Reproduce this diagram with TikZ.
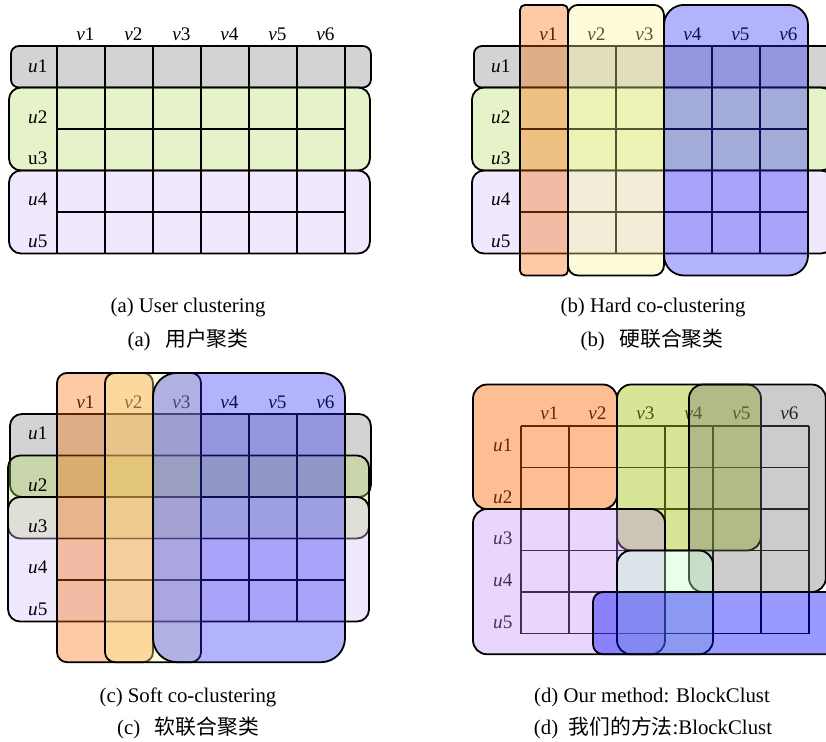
\documentclass[tikz,border=0pt]{standalone}
\usepackage{fontspec}
\setmainfont{Liberation Serif}
\newfontfamily\cjk{Noto Sans CJK SC}

\definecolor{rowgray}{RGB}{129,129,129}
\definecolor{rowgreen}{RGB}{184,218,98}
\definecolor{rowpurple}{RGB}{212,189,246}
\definecolor{colorange}{RGB}{249,101,0}
\definecolor{colyellow}{RGB}{249,244,146}
\definecolor{colblue}{RGB}{38,38,249}
\definecolor{blkorange}{RGB}{250,100,0}
\definecolor{blkgreen}{RGB}{164,199,22}
\definecolor{blkgray}{RGB}{109,109,109}
\definecolor{blkpurple}{RGB}{189,138,246}
\definecolor{blklight}{RGB}{195,255,195}
\definecolor{blkblue}{RGB}{0,0,255}

\begin{document}
\begin{tikzpicture}[
    x=0.5pt, y=-0.5pt,
    font=\fontsize{9.6}{11}\selectfont,
    gridline/.style={line width=0.9pt, black},
    clu/.style={draw=black, line width=0.9pt, fill opacity=0.35},
    lab/.style={inner sep=0pt},
    capt/.style={inner sep=0pt, font=\fontsize{10.4}{12}\selectfont}
]
\useasboundingbox (0,0) rectangle (826,741);

% (a) user clustering
\begin{scope}[shift={(57,46)}, x=24pt, y=-20.75pt]
\draw[clu, fill=rowgray, rounded corners=4pt] (-0.96,0) rectangle (6.54,1);
\draw[clu, fill=rowgreen, rounded corners=6pt] (-1,1) rectangle (6.52,3);
\draw[clu, fill=rowpurple, rounded corners=6pt] (-1,3) rectangle (6.52,5);
\foreach \j in {0,...,6} \draw[gridline] (\j,0) -- (\j,5);
\foreach \i in {0,...,5} \draw[gridline] (0,\i) -- (6,\i);
\foreach \j in {1,...,6}
    \node[lab] (a-v\j) at (\j-0.41,-0.29) {\textit{v}\j};
\foreach \i/\r in {1/0.48, 2/1.71, 4/3.7, 5/4.71}
    \node[lab] (a-u\i) at (-0.4,\r) {\textit{u}\i};
\node[lab] (a-u3) at (-0.4,2.7) {u3};
\end{scope}

% (b) hard co-clustering
\begin{scope}[shift={(520,46)}, x=24pt, y=-20.75pt]
\draw[clu, fill=rowgray, rounded corners=4pt] (-0.96,0) rectangle (6.54,1);
\draw[clu, fill=rowgreen, rounded corners=6pt] (-1,1) rectangle (6.52,3);
\draw[clu, fill=rowpurple, rounded corners=6pt] (-1,3) rectangle (6.52,5);
\foreach \j in {0,...,6} \draw[gridline] (\j,0) -- (\j,5);
\foreach \i in {0,...,5} \draw[gridline] (0,\i) -- (6,\i);
\foreach \j in {1,...,6}
    \node[lab] (b-v\j) at (\j-0.41,-0.29) {\textit{v}\j};
\foreach \i/\r in {1/0.48, 2/1.71, 3/2.7, 4/3.7, 5/4.71}
    \node[lab] (b-u\i) at (-0.4,\r) {\textit{u}\i};
\draw[clu, fill=colorange, rounded corners=2.5pt] (0,-0.99) rectangle (1,5.53);
\draw[clu, fill=colyellow, rounded corners=5pt] (1,-0.99) rectangle (3,5.53);
\draw[clu, fill=colblue, rounded corners=10pt] (3,-0.99) rectangle (6,5.53);
\end{scope}

% (c) soft co-clustering
\begin{scope}[shift={(57,414)}, x=24pt, y=-20.75pt]
\draw[clu, fill=rowgray, rounded corners=6pt] (-0.98,0) rectangle (6.54,2);
\draw[clu, fill=rowgreen, rounded corners=6pt] (-1.02,1) rectangle (6.5,3);
\draw[clu, fill=rowpurple, rounded corners=6pt] (-1.02,2) rectangle (6.5,5);
\foreach \j in {0,...,6} \draw[gridline] (\j,0) -- (\j,5);
\foreach \i in {0,...,5} \draw[gridline] (0,\i) -- (6,\i);
\foreach \j in {1,...,6}
    \node[lab] (c-v\j) at (\j-0.41,-0.29) {\textit{v}\j};
\foreach \i/\r in {1/0.46, 2/1.71, 3/2.71, 4/3.7, 5/4.71}
    \node[lab] (c-u\i) at (-0.4,\r) {\textit{u}\i};
\draw[clu, fill=colorange, rounded corners=5pt] (0,-0.99) rectangle (2,5.98);
\draw[clu, fill=colyellow, rounded corners=5pt] (1,-0.99) rectangle (3,5.98);
\draw[clu, fill=colblue, rounded corners=12pt] (2,-0.99) rectangle (6,5.98);
\end{scope}

% (d) BlockClust
\begin{scope}[shift={(521,426)}, x=24pt, y=-20.75pt]
\foreach \j in {1,...,6}
    \node[lab] (d-v\j) at (\j-0.41,-0.31) {\textit{v}\j};
\foreach \i/\r in {1/0.46, 2/1.71, 3/2.7, 4/3.71, 5/4.72}
    \node[lab] (d-u\i) at (-0.38,\r) {\textit{u}\i};
\foreach \j in {0,...,6} \draw[gridline] (\j,0) -- (\j,5);
\foreach \i in {0,...,5} \draw[gridline] (0,\i) -- (6,\i);
\draw[clu, fill=blkorange, fill opacity=0.42, rounded corners=7pt] (-1,-1) rectangle (2,2);
\draw[clu, fill=blkgreen, fill opacity=0.45, rounded corners=7pt] (2,-1) rectangle (5,3);
\draw[clu, fill=blkgray, rounded corners=7pt] (3.5,-1) rectangle (6.35,4);
\draw[clu, fill=blkpurple, rounded corners=7pt] (-1,2) rectangle (3,5.5);
\draw[clu, fill=blklight, rounded corners=7pt] (2,3) rectangle (4,5.5);
\draw[clu, fill=blkblue, fill opacity=0.4, rounded corners=5pt] (1.5,4) rectangle (6.6,5.5);
\end{scope}

\node[capt] (cap-a1) at (188,308) {(a) User clustering};
\node[capt] (cap-a2) at (188,340) {(a)\hspace{0.7em}{\cjk 用户聚类}};
\node[capt] (cap-b1) at (653,308) {(b) Hard co-clustering};
\node[capt] (cap-b2) at (652,340) {(b)\hspace{0.7em}{\cjk 硬联合聚类}};
\node[capt] (cap-c1) at (188,697) {(c) Soft co-clustering};
\node[capt] (cap-c2) at (188,728) {(c)\hspace{0.7em}{\cjk 软联合聚类}};
\node[capt] (cap-d1) at (652,697) {(d) Our method: BlockClust};
\node[capt] (cap-d2) at (653,728) {(d)\hspace{0.5em}{\cjk 我们的方法}:BlockClust};
\end{tikzpicture}
\end{document}
